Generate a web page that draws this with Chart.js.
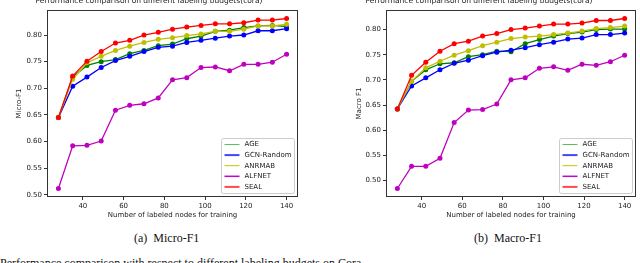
<!DOCTYPE html>
<html>
<head>
<meta charset="utf-8">
<script src="https://cdn.jsdelivr.net/npm/chart.js@4.4.0/dist/chart.umd.min.js"></script>
<style>
body { margin:0; width:640px; height:263px; overflow:hidden; background:#fff; position:relative; }
.box { position:absolute; top:-6px; width:320px; height:228px; }
.cap { position:absolute; font-family:"Liberation Serif", "Times New Roman", serif; font-size:12px; color:#111; white-space:nowrap; }
</style>
</head>
<body>
<div class="box" style="left:0px"><canvas id="microChart"></canvas></div>
<div class="box" style="left:320px"><canvas id="macroChart"></canvas></div>
<div class="cap" style="left:134px; top:231px">(a)&nbsp; Micro-F1</div>
<div class="cap" style="left:474px; top:231px">(b)&nbsp; Macro-F1</div>
<div class="cap" style="left:0px; top:256px">Performance comparison with respect to different labeling budgets on Cora.</div>
<script>
var budgets = [28, 35, 42, 49, 56, 63, 70, 77, 84, 91, 98, 105, 112, 119, 126, 133, 140];
var seriesNames = ['AGE', 'GCN-Random', 'ANRMAB', 'ALFNET', 'SEAL'];
var xTicks = [40, 60, 80, 100, 120, 140];
var yTicks = [0.50, 0.55, 0.60, 0.65, 0.70, 0.75, 0.80];

// Micro-F1
var microAGE    = [0.645, 0.721, 0.743, 0.750, 0.754, 0.765, 0.771, 0.780, 0.783, 0.793, 0.798, 0.807, 0.809, 0.814, 0.817, 0.818, 0.816];
var microGCN    = [0.645, 0.704, 0.721, 0.739, 0.752, 0.760, 0.769, 0.777, 0.779, 0.786, 0.790, 0.794, 0.798, 0.800, 0.808, 0.808, 0.812];
var microANRMAB = [0.645, 0.717, 0.748, 0.760, 0.771, 0.779, 0.786, 0.792, 0.795, 0.799, 0.802, 0.807, 0.807, 0.811, 0.817, 0.817, 0.820];
var microALFNET = [0.512, 0.592, 0.593, 0.601, 0.659, 0.668, 0.671, 0.682, 0.716, 0.720, 0.739, 0.740, 0.733, 0.745, 0.745, 0.749, 0.764];
var microSEAL   = [0.645, 0.723, 0.751, 0.769, 0.785, 0.790, 0.800, 0.805, 0.811, 0.815, 0.818, 0.821, 0.821, 0.823, 0.828, 0.828, 0.831];

// Macro-F1
var macroAGE    = [0.642, 0.697, 0.720, 0.732, 0.734, 0.746, 0.750, 0.757, 0.756, 0.772, 0.780, 0.787, 0.792, 0.795, 0.800, 0.801, 0.801];
var macroGCN    = [0.642, 0.688, 0.704, 0.720, 0.733, 0.739, 0.748, 0.755, 0.759, 0.764, 0.770, 0.775, 0.781, 0.783, 0.790, 0.790, 0.793];
var macroANRMAB = [0.642, 0.697, 0.724, 0.737, 0.749, 0.758, 0.768, 0.775, 0.782, 0.785, 0.787, 0.790, 0.793, 0.797, 0.802, 0.804, 0.807];
var macroALFNET = [0.484, 0.528, 0.528, 0.544, 0.615, 0.640, 0.641, 0.652, 0.700, 0.704, 0.723, 0.726, 0.719, 0.731, 0.729, 0.736, 0.749];
var macroSEAL   = [0.642, 0.709, 0.735, 0.757, 0.772, 0.777, 0.787, 0.792, 0.800, 0.803, 0.807, 0.811, 0.811, 0.813, 0.818, 0.818, 0.822];

var lineColors   = ['#008000', '#0000ff', '#bfbf00', '#bf00bf', '#ff0000'];
var legendColors = ['#5cbf5c', '#4444ff', '#c4c400', '#cc00cc', '#ff4a4a'];
var legendWidths = [1, 2, 1, 1.5, 2];

Chart.defaults.font.family = '"DejaVu Sans", sans-serif';
Chart.defaults.color = '#222';

// box around the plot and the legend in the lower right corner
var frameAndLegend = {
    id: 'frameAndLegend',
    afterDatasetsDraw: function(chart) {
        var ctx = chart.ctx;
        var area = chart.chartArea;
        ctx.save();
        ctx.strokeStyle = '#333';
        ctx.lineWidth = 1;
        ctx.strokeRect(area.left + 0.5, area.top + 0.5, area.width - 1, area.height - 1);

        var w = 73, h = 55;
        var x0 = Math.round(area.right - 4 - w) + 0.5;
        var y0 = Math.round(area.bottom - 4 - h) + 0.5;
        ctx.fillStyle = 'rgba(255,255,255,0.85)';
        ctx.strokeStyle = '#cccccc';
        ctx.beginPath();
        ctx.roundRect(x0, y0, w, h, 2);
        ctx.fill();
        ctx.stroke();

        ctx.font = '7px "DejaVu Sans"';
        ctx.textBaseline = 'middle';
        for (var i = 0; i < seriesNames.length; i++) {
            var y = y0 + 6 + i * 10.6;
            ctx.strokeStyle = legendColors[i];
            ctx.lineWidth = legendWidths[i];
            ctx.beginPath();
            ctx.moveTo(x0 + 3, y);
            ctx.lineTo(x0 + 18, y);
            ctx.stroke();
            ctx.fillStyle = '#222';
            ctx.fillText(seriesNames[i], x0 + 23, y);
        }
        ctx.restore();
    }
};

function limits(values, margin) {
    var lo = Math.min.apply(null, values), hi = Math.max.apply(null, values);
    var pad = (hi - lo) * margin;
    return [lo - pad, hi + pad];
}

function makeChart(id, yTitle, series, axisWidth, titlePad, rightPad) {
    var all = [].concat.apply([], series);
    var yLim = limits(all, 0.05);
    var xLim = limits(budgets, 0.05);
    var datasets = [];
    for (var i = 0; i < series.length; i++) {
        datasets.push({
            label: seriesNames[i],
            data: budgets.map(function(b, k) { return {x: b, y: series[i][k]}; }),
            borderColor: lineColors[i],
            backgroundColor: lineColors[i],
            borderWidth: 1.3,
            pointRadius: 2.5,
            pointBorderWidth: 0,
            order: series.length - 1 - i
        });
    }
    return new Chart(id, {
        type: 'line',
        data: { datasets: datasets },
        plugins: [frameAndLegend],
        options: {
            responsive: true,
            maintainAspectRatio: false,
            animation: false,
            layout: { padding: { left: 0, right: rightPad, top: 0, bottom: 0 } },
            plugins: {
                legend: { display: false },
                tooltip: { enabled: false },
                title: {
                    display: true,
                    text: 'Performance comparison on different labeling budgets(cora)',
                    font: { size: 7.5, weight: 'normal' },
                    padding: { top: 3, bottom: 4 },
                    color: '#222'
                }
            },
            scales: {
                x: {
                    type: 'linear',
                    min: xLim[0],
                    max: xLim[1],
                    afterBuildTicks: function(scale) { scale.ticks = xTicks.map(function(v) { return {value: v}; }); },
                    afterFit: function(scale) { scale.height = 25; },
                    grid: { drawOnChartArea: false, tickLength: 3, color: '#333' },
                    border: { display: false },
                    ticks: { font: { size: 7 }, padding: 2, maxRotation: 0 },
                    title: { display: true, text: 'Number of labeled nodes for training', font: { size: 7 }, padding: { top: 0, bottom: 3 } }
                },
                y: {
                    min: yLim[0],
                    max: yLim[1],
                    afterBuildTicks: function(scale) { scale.ticks = yTicks.map(function(v) { return {value: v}; }); },
                    afterFit: function(scale) { scale.width = axisWidth; },
                    grid: { drawOnChartArea: false, tickLength: 3, color: '#333' },
                    border: { display: false },
                    ticks: { font: { size: 7 }, padding: 2, callback: function(v) { return v.toFixed(2); } },
                    title: { display: true, text: yTitle, font: { size: 7 }, padding: { top: titlePad, bottom: 0 } }
                }
            }
        }
    });
}

makeChart('microChart', 'Micro-F1', [microAGE, microGCN, microANRMAB, microALFNET, microSEAL], 47, 15, 22);
makeChart('macroChart', 'Macro F1', [macroAGE, macroGCN, macroANRMAB, macroALFNET, macroSEAL], 66, 35, 2);
</script>
</body>
</html>
